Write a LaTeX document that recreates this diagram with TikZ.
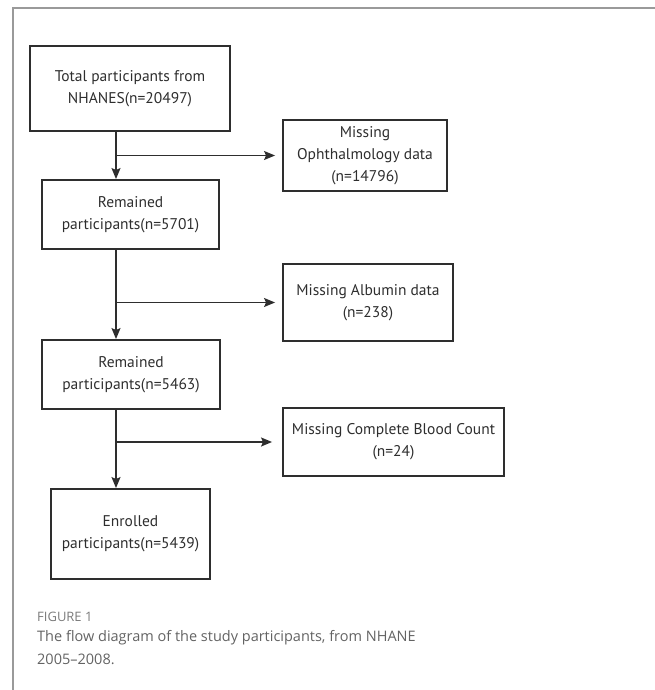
\documentclass[tikz,border=0pt]{standalone}
\usepackage{fontspec}
\newfontfamily\boxfont{PT Sans}
\newfontfamily\capfont{Open Sans}
\usetikzlibrary{arrows.meta}
\definecolor{linegray}{HTML}{2E2E2E}
\definecolor{capgray}{HTML}{636363}
\definecolor{labelgray}{HTML}{7A7A7A}
\definecolor{framegray}{HTML}{9A9A9A}

\begin{document}
\begin{tikzpicture}[
    x=1pt, y=-1pt,
    stage/.style={draw=linegray, line width=1.9pt, align=center, inner sep=0pt,
      font=\boxfont\fontsize{15.5}{22}\selectfont, text=linegray},
    flow/.style={draw=linegray, line width=1.6pt, -{Stealth[length=11pt,width=9pt,inset=2pt]}}
    ]
    \useasboundingbox (0,0) rectangle (655,690);
    \draw[framegray, line width=1.5pt] (13,690) -- (13,8) -- (655,8);
    \node[stage, minimum width=200pt, minimum height=85pt] (total) at (130,88.5) {Total participants from\\NHANES(n=20497)};
    \node[stage, minimum width=164pt, minimum height=71pt] (ophth) at (365,155.5) {Missing\\Ophthalmology data\\(n=14796)};
    \node[stage, minimum width=177pt, minimum height=69pt] (rem1) at (130.5,214.5) {Remained\\participants(n=5701)};
    \node[stage, minimum width=170pt, minimum height=77pt] (alb) at (368,302.5) {Missing Albumin data\\(n=238)};
    \node[stage, minimum width=178pt, minimum height=69pt] (rem2) at (131,374.5) {Remained\\participants(n=5463)};
    \node[stage, minimum width=221pt, minimum height=68pt] (cbc) at (393.5,442) {Missing Complete Blood Count\\(n=24)};
    \node[stage, minimum width=159pt, minimum height=90pt] (enrolled) at (130.5,534) {Enrolled\\participants(n=5439)};
    \coordinate (spine) at (116,0);
    \draw[flow] (total.south -| spine) -- (rem1.north -| spine);
    \draw[flow] (rem1.south -| spine) -- (rem2.north -| spine);
    \draw[flow] (rem2.south -| spine) -- (enrolled.north -| spine);
    \draw[flow] (spine |- ophth.west) -- ([xshift=-7pt]ophth.west);
    \draw[flow] (spine |- alb.west) -- ([xshift=-7pt]alb.west);
    \draw[flow] (spine |- cbc.west) -- ([xshift=-10pt]cbc.west);
    \node[anchor=base west, inner sep=0pt, text=labelgray, font=\capfont\fontsize{13}{15}\selectfont] (figlabel) at (37,621) {FIGURE 1};
    \node[anchor=north west, inner sep=0pt, align=left, text=capgray, font=\capfont\fontsize{14.5}{23}\selectfont] (caption) at (37,630) {The flow diagram of the study participants, from NHANE\\2005–2008.};
  \end{tikzpicture}
\end{document}
